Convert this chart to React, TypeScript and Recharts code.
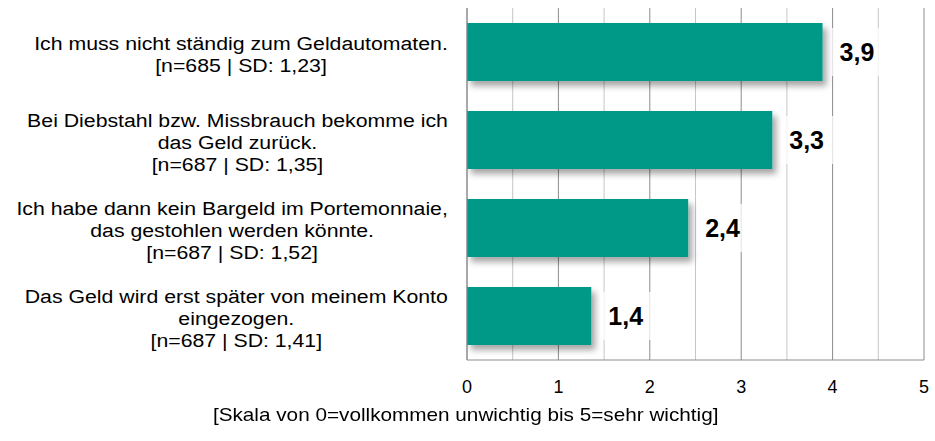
import React from 'react'
import { BarChart, Bar, XAxis, YAxis, CartesianGrid, LabelList } from 'recharts'

const statements = [
  ['Ich muss nicht ständig zum Geldautomaten.', '[n=685 | SD: 1,23]'],
  ['Bei Diebstahl bzw. Missbrauch bekomme ich', 'das Geld zurück.', '[n=687 | SD: 1,35]'],
  ['Ich habe dann kein Bargeld im Portemonnaie,', 'das gestohlen werden könnte.', '[n=687 | SD: 1,52]'],
  ['Das Geld wird erst später von meinem Konto', 'eingezogen.', '[n=687 | SD: 1,41]'],
]
const means = [3.89, 3.34, 2.42, 1.36]
const xTicks = [0, 1, 2, 3, 4, 5]
const minorTicks = [0.5, 1.5, 2.5, 3.5, 4.5]
const axisTitle = '[Skala von 0=vollkommen unwichtig bis 5=sehr wichtig]'

const X_MAX = 5
const data = statements.map((lines, i) => ({ name: String(i), lines, value: means[i] }))

const FONT = 'Arial, "Liberation Sans", sans-serif'
const TEAL = '#009987'
const STRETCH = 1.12

let ctx: CanvasRenderingContext2D | null = null
const measure = (s: string, size: number) => {
  if (!ctx) ctx = document.createElement('canvas').getContext('2d')
  if (!ctx) return s.length * size * 0.5
  ctx.font = `${size}px ${FONT}`
  return ctx.measureText(s).width
}

const LABEL_SIZE = 19
const LINE_H = 22

const CategoryTick = (props: any) => {
  const { x, y, payload } = props
  const lines: string[] = data[Number(payload.value)].lines
  const maxW = Math.max(...lines.map(l => measure(l, LABEL_SIZE))) * STRETCH
  const cx = x - 11 - maxW / 2
  const n = lines.length
  return (
    <g>
      {lines.map((l, i) => (
        <text key={i} x={0} y={0} dy={9}
          transform={`translate(${cx},${y + (i - (n - 1) / 2) * LINE_H}) scale(${STRETCH},1)`}
          textAnchor="middle" fontFamily={FONT} fontSize={LABEL_SIZE} fill="#000">
          {l}
        </text>
      ))}
    </g>
  )
}

const ValueLabel = (props: any) => {
  const { x, y, width, height, value } = props
  const txt = Number(value).toFixed(1).replace('.', ',')
  const lx = x + width + 17
  const cy = y + height / 2
  return (
    <g>
      <rect x={lx - 8} y={cy - 24} width={56} height={48} fill="#fff" fillOpacity={0.75} />
      <text x={lx} y={cy} dy={9} fontFamily={FONT} fontWeight="bold" fontSize={25} fill="#000">{txt}</text>
    </g>
  )
}

export default function App() {
  return (
    <div style={{ position: 'absolute', left: 0, top: 0, width: 935, height: 441, background: '#fff' }}>
      <BarChart width={935} height={441} data={data} layout="vertical"
        margin={{ top: 8, right: 11, bottom: 51, left: 0 }} barCategoryGap="17%">
        <defs>
          <filter id="barShadow" x="-10%" y="-20%" width="130%" height="160%">
            <feDropShadow dx="4" dy="5" stdDeviation="3" floodColor="#000" floodOpacity="0.35" />
          </filter>
        </defs>
        <CartesianGrid horizontal={false} stroke="#c6c6c6"
          verticalCoordinatesGenerator={({ offset }: any) =>
            minorTicks.map(v => offset.left + (offset.width * v) / X_MAX)} />
        <CartesianGrid horizontal={false} stroke="#8c8c8c" />
        <XAxis type="number" domain={[0, X_MAX]} ticks={xTicks} tickLine={false}
          axisLine={{ stroke: '#8c8c8c' }} tickMargin={14}
          tick={{ fontFamily: FONT, fontSize: 18, fill: '#000' }} />
        <YAxis type="category" dataKey="name" width={467} tickLine={false}
          axisLine={{ stroke: '#8c8c8c' }} tick={<CategoryTick />} interval={0} />
        <Bar dataKey="value" fill={TEAL} isAnimationActive={false} filter="url(#barShadow)">
          <LabelList dataKey="value" content={<ValueLabel />} />
        </Bar>
      </BarChart>
      <div style={{ position: 'absolute', left: 0, width: 932, top: 404, textAlign: 'center',
        fontFamily: FONT, fontSize: 18.5, color: '#000' }}>
        <span style={{ display: 'inline-block', transform: `scaleX(${STRETCH})` }}>{axisTitle}</span>
      </div>
    </div>
  )
}
